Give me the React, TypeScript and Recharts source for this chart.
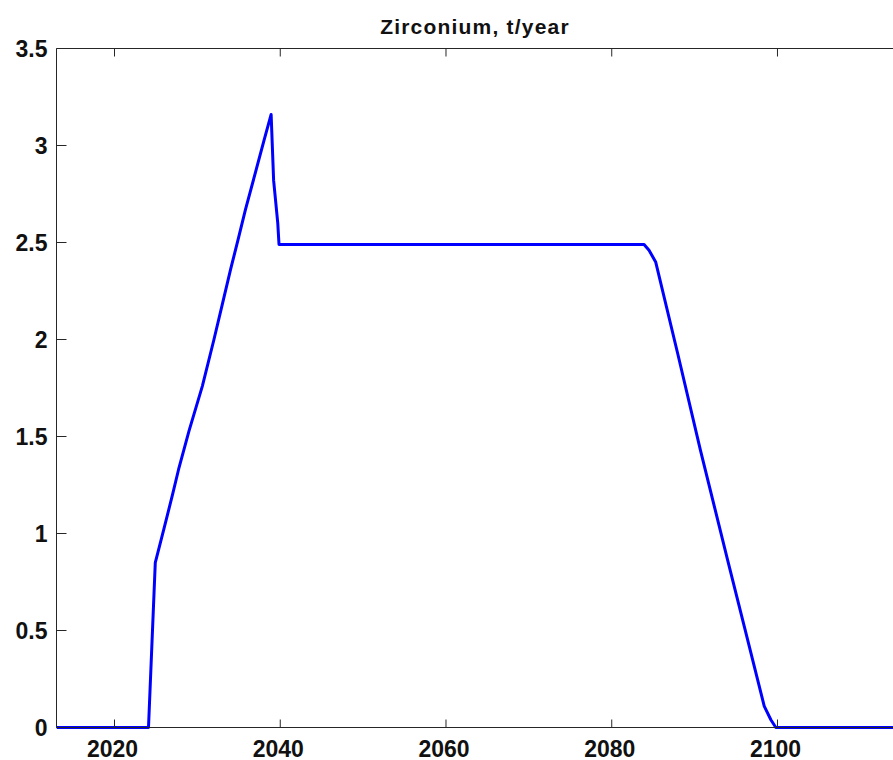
import React from 'react';
import { LineChart, Line, XAxis, YAxis } from 'recharts';

const years = [
  2013, 2024.1, 2024.92, 2026, 2027, 2027.73, 2029, 2030.6, 2032, 2033, 2034, 2035, 2035.8, 2037, 2038,
  2038.9, 2039.2, 2039.7, 2039.85, 2050, 2060, 2070, 2083.9, 2084.5, 2085.3, 2088, 2090.7, 2094, 2096,
  2098.4, 2099.2, 2099.8, 2114,
];
const values = [
  0, 0, 0.85, 1.03, 1.2, 1.33, 1.53, 1.76, 2.0, 2.18, 2.36, 2.53, 2.67, 2.86, 3.02,
  3.16, 2.82, 2.6, 2.49, 2.49, 2.49, 2.49, 2.49, 2.46, 2.4, 1.92, 1.43, 0.86, 0.52,
  0.11, 0.04, 0, 0,
];
const xTicks = [2020, 2040, 2060, 2080, 2100];
const yTicks = [0, 0.5, 1, 1.5, 2, 2.5, 3, 3.5];
const title = 'Zirconium, t/year';

const data = years.map((year, i) => ({ year, value: values[i] }));

const AXIS = '#262626';
const FONT = '"Liberation Sans", Arial, sans-serif';

// ticks point inwards, so every axis draws its own tick marks
const BottomTick = (props: any) => {
  const { x, y, payload } = props;
  return (
    <g>
      <line x1={x} y1={y} x2={x} y2={y - 8} stroke={AXIS} />
      <text x={x - 2} y={y + 29} textAnchor="middle" fontFamily={FONT} fontWeight="bold" fontSize={23} fill="#111">
        {payload.value}
      </text>
    </g>
  );
};

const TopTick = (props: any) => {
  const { x, y } = props;
  return <line x1={x} y1={y} x2={x} y2={y + 8} stroke={AXIS} />;
};

const LeftTick = (props: any) => {
  const { x, y, payload } = props;
  return (
    <g>
      <line x1={x} y1={y} x2={x + 10} y2={y} stroke={AXIS} />
      <text x={x - 9} y={y + 8} textAnchor="end" fontFamily={FONT} fontWeight="bold" fontSize={23} fill="#111">
        {payload.value}
      </text>
    </g>
  );
};

const RightTick = (props: any) => {
  const { x, y } = props;
  return <line x1={x} y1={y} x2={x - 10} y2={y} stroke={AXIS} />;
};

export default function App() {
  return (
    <div style={{ position: 'fixed', left: 0, top: 0, width: 893, height: 760, overflow: 'hidden', background: '#fff' }}>
      <div
        style={{
          position: 'absolute', left: 56, width: 838, top: 15, textAlign: 'center',
          fontFamily: FONT, fontSize: 21, fontWeight: 'bold', letterSpacing: 1.2, color: '#111',
        }}
      >
        {title}
      </div>
      <LineChart width={900} height={760} data={data} margin={{ top: 47.5, right: 5.5, bottom: 31.5, left: 55.5 }}>
        <XAxis
          dataKey="year" type="number" domain={[2013, 2114]} ticks={xTicks} allowDataOverflow
          height={1} tickSize={0} tickMargin={0} tickLine={false} stroke={AXIS} tick={<BottomTick />}
        />
        <XAxis
          xAxisId="top" orientation="top" dataKey="year" type="number" domain={[2013, 2114]} ticks={xTicks}
          allowDataOverflow height={1} tickSize={0} tickMargin={0} tickLine={false} stroke={AXIS} tick={<TopTick />}
        />
        <YAxis
          domain={[0, 3.5]} ticks={yTicks} width={1} tickSize={0} tickMargin={0} tickLine={false}
          stroke={AXIS} tick={<LeftTick />}
        />
        <YAxis
          yAxisId="right" orientation="right" domain={[0, 3.5]} ticks={yTicks} width={1} tickSize={0}
          tickMargin={0} tickLine={false} stroke={AXIS} tick={<RightTick />}
        />
        <Line
          type="linear" dataKey="value" stroke="#0000ff" strokeWidth={3} dot={false}
          strokeLinejoin="round" isAnimationActive={false}
        />
      </LineChart>
    </div>
  );
}
